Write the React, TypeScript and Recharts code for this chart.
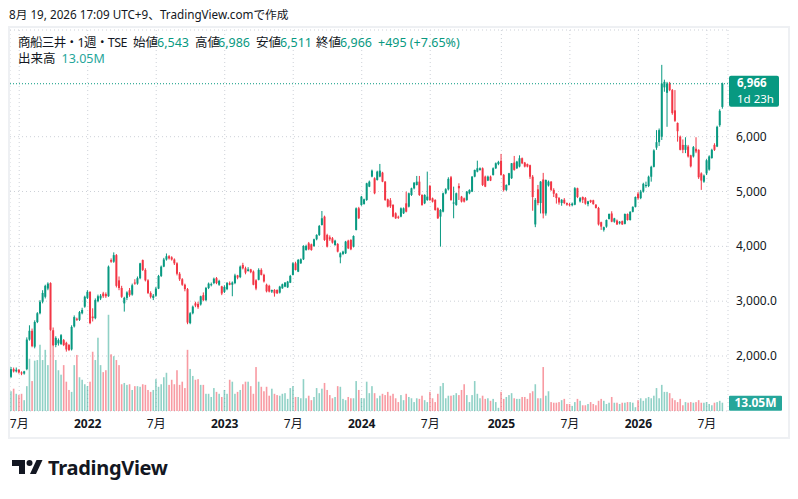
import React from 'react';
import { ComposedChart, Bar, XAxis, YAxis, CartesianGrid, ReferenceLine } from 'recharts';

// 商船三井 週足 (2021-06-14 週 〜 2026-08-17 週)
const START = Date.UTC(2021, 5, 14);
const WEEK = 7 * 24 * 3600 * 1000;

const opens = [
  1620, 1760, 1720, 1750, 1700, 1680, 1760, 2300, 2460, 2170,
  2620, 2780, 2990, 3080, 3230, 3330, 2470, 2200, 2230, 2220,
  2290, 2240, 2200, 2120, 2540, 2680, 2660, 2780, 2900, 3060,
  3170, 2720, 2690, 3000, 3050, 3140, 3130, 3090, 3750, 3720,
  3840, 3380, 3240, 2960, 3060, 3200, 3120, 3340, 3320, 3420,
  3750, 3570, 3380, 3150, 3060, 3100, 3230, 3460, 3630, 3760,
  3820, 3800, 3760, 3690, 3500, 3400, 3300, 3220, 2600, 2780,
  2960, 2950, 2940, 3110, 3020, 3240, 3300, 3330, 3420, 3300,
  3270, 3170, 3220, 3330, 3300, 3330, 3470, 3440, 3660, 3600,
  3550, 3580, 3540, 3380, 3390, 3570, 3480, 3300, 3280, 3175,
  3205, 3205, 3156, 3235, 3265, 3253, 3338, 3478, 3691, 3539,
  3691, 3764, 3934, 4055, 4037, 4007, 4129, 4208, 4390, 4542,
  4208, 4165, 4147, 4025, 4043, 3800, 3861, 3873, 4104, 4117,
  3995, 4299, 4694, 4755, 4773, 4846, 5089, 5272, 5241, 5211,
  5272, 5345, 5180, 4858, 4840, 4755, 4603, 4540, 4542, 4603,
  4785, 4724, 4937, 5059, 5120, 5180, 4937, 4785, 4846, 5101,
  4876, 4846, 4694, 4542, 4633, 4968, 5041, 5260, 4780, 4755,
  5101, 4907, 4876, 4846, 4968, 4998, 5272, 5363, 5393, 5424,
  5272, 5199, 5272, 5302, 5424, 5500, 5560, 5303, 5029, 5120,
  5242, 5528, 5424, 5455, 5607, 5528, 5500, 5480, 5270, 4400,
  5040, 4790, 5220, 4600, 5110, 5180, 5030, 4960, 4880, 4790,
  4850, 4790, 4770, 4750, 4760, 5060, 4820, 4900, 4880, 4770,
  4840, 4840, 4760, 4700, 4440, 4300, 4360, 4500, 4600, 4450,
  4470, 4420, 4460, 4410, 4590, 4480, 4630, 4720, 4960, 4880,
  5000, 5100, 5100, 5270, 5450, 5800, 5900, 6000, 6900, 6800,
  6970, 6850, 6480, 6250, 6000, 5850, 5760, 5820, 5660, 5640,
  5780, 5760, 5330, 5180, 5330, 5400, 5610, 5850, 5820, 6210,
  6543,
];

const highs = [
  1800, 1790, 1790, 1760, 1720, 1730, 2340, 2560, 2500, 2650,
  2800, 3020, 3200, 3300, 3344, 3344, 2520, 2360, 2320, 2400,
  2310, 2260, 2220, 2560, 2740, 2700, 2820, 2880, 3100, 3200,
  3180, 2870, 3050, 3120, 3130, 3170, 3160, 3650, 3780, 3890,
  3860, 3450, 3280, 3080, 3180, 3240, 3320, 3400, 3450, 3700,
  3760, 3600, 3400, 3180, 3130, 3260, 3480, 3650, 3790, 3870,
  3840, 3820, 3780, 3710, 3530, 3420, 3320, 3240, 2800, 2920,
  2990, 2990, 3100, 3160, 3260, 3340, 3340, 3430, 3440, 3390,
  3280, 3290, 3350, 3360, 3360, 3500, 3480, 3650, 3700, 3630,
  3620, 3590, 3560, 3400, 3600, 3600, 3500, 3320, 3300, 3210,
  3220, 3215, 3280, 3320, 3350, 3370, 3480, 3710, 3720, 3770,
  3780, 4020, 4030, 4080, 4050, 4140, 4220, 4390, 4645, 4560,
  4230, 4200, 4170, 4120, 4060, 3890, 3920, 4100, 4120, 4130,
  4200, 4710, 4720, 4920, 4870, 5160, 5200, 5400, 5260, 5380,
  5503, 5360, 5190, 4870, 4880, 4770, 4620, 4560, 4710, 4710,
  4998, 4980, 5070, 5170, 5284, 5284, 4950, 4950, 5363, 5120,
  4890, 4860, 4710, 4680, 4980, 5060, 5260, 5284, 5089, 4980,
  5150, 4920, 4890, 5010, 5040, 5280, 5400, 5563, 5440, 5440,
  5290, 5290, 5290, 5440, 5530, 5560, 5686, 5320, 5130, 5340,
  5520, 5649, 5560, 5660, 5620, 5540, 5510, 5490, 5300, 4880,
  5120, 5190, 5340, 5220, 5200, 5190, 5060, 4970, 4900, 4860,
  4880, 4800, 4790, 4800, 5080, 5070, 4900, 4910, 4900, 4830,
  4850, 4850, 4770, 4720, 4450, 4360, 4490, 4600, 4640, 4520,
  4490, 4460, 4470, 4600, 4600, 4640, 4730, 4910, 4990, 5030,
  5160, 5180, 5290, 5470, 5770, 6120, 6150, 7310, 7040, 7000,
  7000, 6870, 6850, 6260, 6020, 5950, 5990, 5850, 5670, 5830,
  5990, 5770, 5350, 5310, 5590, 5660, 5780, 5880, 6200, 6500,
  6986,
];

const lows = [
  1600, 1700, 1700, 1680, 1650, 1660, 1740, 2280, 2160, 2140,
  2600, 2760, 2960, 3050, 3200, 2460, 2180, 2160, 2190, 2200,
  2180, 2080, 2090, 2100, 2520, 2640, 2640, 2760, 2880, 3040,
  2580, 2630, 2670, 2980, 3020, 3060, 3060, 3080, 3700, 3700,
  3250, 3200, 3060, 2810, 3020, 3080, 3100, 3300, 3300, 3400,
  3550, 3360, 3130, 3050, 3020, 3080, 3220, 3440, 3620, 3740,
  3760, 3740, 3660, 3470, 3370, 3280, 3180, 2580, 2580, 2760,
  2890, 2860, 2920, 3000, 3000, 3220, 3270, 3310, 3310, 3280,
  3110, 3150, 3200, 3290, 3090, 3310, 3400, 3420, 3580, 3490,
  3540, 3510, 3290, 3200, 3380, 3470, 3340, 3160, 3160, 3150,
  3083, 3130, 3140, 3225, 3255, 3240, 3330, 3470, 3560, 3530,
  3680, 3750, 3920, 3930, 3920, 3990, 4110, 4190, 4380, 4100,
  3980, 4100, 4050, 4010, 3890, 3691, 3840, 3860, 3950, 3930,
  3980, 4290, 4500, 4740, 4760, 4830, 5080, 5260, 4950, 5200,
  5260, 5170, 4830, 4710, 4700, 4530, 4500, 4500, 4530, 4590,
  4620, 4710, 4920, 5040, 5110, 4920, 4740, 4770, 4830, 4830,
  4800, 4650, 4500, 3995, 4620, 4950, 5020, 4830, 4512, 4740,
  4846, 4800, 4800, 4830, 4950, 4990, 5260, 5350, 5380, 5100,
  5080, 5190, 5190, 5290, 5410, 5480, 5290, 5000, 5010, 5110,
  5230, 5380, 5410, 5440, 5500, 5440, 5440, 5230, 4650, 4350,
  4750, 4600, 4510, 4560, 5090, 5010, 4900, 4780, 4760, 4740,
  4770, 4740, 4730, 4730, 4750, 4880, 4800, 4790, 4760, 4730,
  4790, 4760, 4690, 4380, 4300, 4270, 4340, 4490, 4440, 4430,
  4390, 4400, 4390, 4400, 4470, 4470, 4620, 4710, 4850, 4860,
  4980, 5070, 5080, 5180, 5440, 5760, 5830, 5940, 6820, 6180,
  6830, 6400, 6270, 5910, 5750, 5700, 5700, 5620, 5440, 5620,
  5700, 5230, 5030, 5160, 5300, 5380, 5600, 5740, 5810, 6180,
  6511,
];

const closes = [
  1760, 1720, 1750, 1700, 1680, 1720, 2300, 2460, 2180, 2620,
  2780, 2990, 3150, 3280, 3320, 2480, 2200, 2330, 2290, 2380,
  2200, 2120, 2110, 2530, 2710, 2660, 2800, 2840, 3080, 3170,
  2600, 2690, 3020, 3090, 3100, 3090, 3090, 3630, 3720, 3840,
  3280, 3240, 3080, 3060, 3160, 3110, 3290, 3320, 3420, 3690,
  3570, 3380, 3150, 3080, 3100, 3230, 3460, 3630, 3760, 3820,
  3780, 3760, 3690, 3500, 3400, 3300, 3220, 2610, 2780, 2900,
  2920, 2890, 3090, 3020, 3240, 3320, 3310, 3410, 3330, 3370,
  3140, 3260, 3330, 3300, 3340, 3470, 3430, 3630, 3600, 3520,
  3580, 3530, 3300, 3230, 3570, 3480, 3360, 3180, 3175, 3205,
  3144, 3144, 3265, 3308, 3338, 3356, 3460, 3691, 3569, 3752,
  3764, 4007, 4007, 3946, 3934, 4129, 4208, 4372, 4512, 4117,
  3995, 4129, 4068, 4104, 3904, 3873, 3904, 4086, 3964, 3946,
  4189, 4694, 4512, 4907, 4858, 5150, 5180, 5381, 4968, 5363,
  5381, 5180, 4846, 4724, 4730, 4542, 4512, 4530, 4694, 4694,
  4633, 4968, 5059, 5162, 5180, 4937, 4755, 4937, 4907, 4846,
  4816, 4664, 4512, 4664, 4968, 5041, 5230, 4846, 4800, 4968,
  5059, 4816, 4816, 4998, 5029, 5272, 5393, 5424, 5424, 5120,
  5089, 5272, 5199, 5424, 5515, 5540, 5303, 5029, 5120, 5333,
  5515, 5394, 5546, 5607, 5515, 5455, 5455, 5270, 4900, 4846,
  4790, 5180, 4600, 5210, 5180, 5030, 4960, 4880, 4800, 4850,
  4790, 4760, 4750, 4780, 5060, 4900, 4880, 4850, 4780, 4820,
  4810, 4770, 4700, 4400, 4360, 4350, 4480, 4590, 4450, 4510,
  4400, 4450, 4400, 4590, 4480, 4630, 4720, 4900, 4880, 5000,
  5140, 5120, 5270, 5450, 5750, 5900, 6120, 6970, 7000, 6970,
  6850, 6430, 6290, 6100, 5760, 5760, 5850, 5640, 5460, 5810,
  5730, 5260, 5200, 5290, 5570, 5640, 5760, 5760, 6180, 6471,
  6966,
];

// 出来高 (百万株)
const volumes = [
  31, 35, 27, 25, 27, 17, 39, 82, 47, 79,
  80, 104, 80, 96, 72, 129, 111, 80, 64, 57,
  72, 46, 33, 30, 72, 88, 53, 49, 42, 39,
  46, 93, 80, 115, 72, 61, 64, 151, 89, 86,
  80, 72, 42, 44, 41, 42, 33, 39, 39, 38,
  42, 41, 33, 30, 33, 50, 38, 42, 53, 60,
  41, 49, 42, 64, 41, 46, 36, 96, 66, 55,
  49, 50, 41, 41, 27, 27, 22, 36, 30, 27,
  22, 33, 27, 49, 46, 27, 30, 33, 42, 46,
  46, 39, 27, 69, 46, 38, 31, 38, 24, 35,
  27, 25, 24, 27, 28, 19, 36, 39, 22, 22,
  20, 50, 20, 24, 17, 22, 36, 28, 35, 44,
  33, 25, 20, 22, 39, 38, 19, 17, 22, 20,
  20, 47, 33, 20, 20, 46, 28, 39, 28, 20,
  24, 27, 25, 30, 24, 27, 20, 14, 25, 17,
  27, 22, 20, 14, 20, 19, 24, 17, 14, 30,
  20, 14, 27, 39, 44, 20, 24, 24, 25, 28,
  25, 33, 42, 25, 14, 25, 47, 27, 20, 24,
  19, 20, 16, 19, 14, 5, 30, 19, 22, 25,
  28, 20, 19, 19, 22, 22, 19, 28, 31, 42,
  20, 20, 69, 24, 31, 14, 13, 13, 14, 17,
  19, 11, 11, 8, 14, 19, 16, 9, 9, 11,
  14, 11, 9, 16, 19, 16, 11, 13, 22, 13,
  13, 11, 13, 13, 14, 14, 13, 6, 17, 20,
  16, 20, 22, 20, 24, 36, 20, 41, 30, 30,
  28, 20, 17, 14, 19, 9, 14, 13, 14, 13,
  14, 17, 13, 13, 14, 11, 9, 13, 14, 16,
  13.05,
];

const priceTicks = [2000, 3000, 4000, 5000, 6000];
const priceTickLabels = ['2,000.0', '3,000.0', '4,000', '5,000', '6,000'];
const julyLabel = '7月';
const countdown = '1d 23h';

const UP = '#089981';
const DOWN = '#f23645';
const UP_VOL = 'rgba(8,153,129,0.45)';
const DOWN_VOL = 'rgba(242,54,69,0.5)';
const VOL_TAG = '#26a69a';
const TEXT = '#131722';
const FONT = "'Noto Sans', 'Noto Sans CJK JP', sans-serif";

const rows = closes.map((c, i) => {
  const t = new Date(START + i * WEEK);
  return {
    d: t.toISOString().slice(0, 10),
    m: t.getUTCMonth(),
    yr: t.getUTCFullYear(),
    o: opens[i],
    h: highs[i],
    l: lows[i],
    c,
    v: volumes[i],
  };
});

// 1月・7月の最初の週に目盛り
const xTicks = rows
  .filter((r, i) => i > 0 && r.m !== rows[i - 1].m && (r.m === 0 || r.m === 6))
  .map((r) => r.d);

const last = rows[rows.length - 1];
const prev = rows[rows.length - 2];
const change = last.c - prev.c;
const changePct = (change / prev.c) * 100;
const fmt = (n: number) => n.toLocaleString('en-US');
const sign = change >= 0 ? '+' : '';

function Candle(props: any) {
  const { x, y, width, height, payload } = props;
  if (!payload) return null;
  const { o, h, l, c } = payload;
  const color = c >= o ? UP : DOWN;
  const top = Math.min(y, y + height);
  const span = Math.abs(height);
  const k = h === l ? 0 : span / (h - l);
  const yOf = (v: number) => top + (h - v) * k;
  const cx = x + width / 2;
  const bodyTop = yOf(Math.max(o, c));
  const bodyH = Math.max(1, Math.abs(yOf(o) - yOf(c)));
  return (
    <g>
      <line x1={cx} x2={cx} y1={top} y2={top + span} stroke={color} strokeWidth={1} />
      <rect x={cx - 1} y={bodyTop} width={2} height={bodyH} fill={color} />
    </g>
  );
}

function VolBar(props: any) {
  const { x, y, width, height, payload } = props;
  if (!payload) return null;
  const cx = x + width / 2;
  return (
    <rect
      x={cx - 0.8}
      y={Math.min(y, y + height)}
      width={1.6}
      height={Math.abs(height)}
      fill={payload.c >= payload.o ? UP_VOL : DOWN_VOL}
    />
  );
}

function XTick(props: any) {
  const { x, y, payload } = props;
  const r = rows.find((row) => row.d === payload.value);
  if (!r) return null;
  const isYear = r.m === 0;
  return (
    <text
      x={x}
      y={y}
      dy={9}
      textAnchor="middle"
      fontSize={12}
      fontWeight={isYear ? 700 : 400}
      fill={TEXT}
      fontFamily={FONT}
    >
      {isYear ? String(r.yr) : julyLabel}
    </text>
  );
}

function PriceTick(props: any) {
  const { x, y, payload } = props;
  const idx = priceTicks.indexOf(payload.value);
  return (
    <text x={x} y={y} dy={4} textAnchor="start" fontSize={12} fill={TEXT} fontFamily={FONT}>
      {idx >= 0 ? priceTickLabels[idx] : ''}
    </text>
  );
}

function PriceTag(props: any) {
  const vb = props.viewBox;
  if (!vb) return null;
  const left = vb.x + vb.width + 1;
  return (
    <g fontFamily={FONT}>
      <rect x={left} y={vb.y - 8} width={50} height={31} rx={2} fill={UP} />
      <text x={left + 8} y={vb.y + 3} fontSize={11.5} fontWeight={700} fill="#fff">
        {fmt(last.c)}
      </text>
      <text x={left + 8} y={vb.y + 19} fontSize={11.5} fill="#fff">
        {countdown}
      </text>
    </g>
  );
}

function VolTag(props: any) {
  const vb = props.viewBox;
  if (!vb) return null;
  const left = vb.x + vb.width + 1;
  return (
    <g fontFamily={FONT}>
      <rect x={left} y={vb.y - 7} width={53} height={15} rx={1} fill={VOL_TAG} />
      <text x={left + 26.5} y={vb.y + 4.5} textAnchor="middle" fontSize={12} fontWeight={700} fill="#fff">
        {last.v.toFixed(2)}M
      </text>
    </g>
  );
}

// 凡例: [テキスト, 左端x, 色, 字間]
const legendItems: [string, number, string, number][] = [
  ['商船三井・1週・TSE', 18, TEXT, -0.6],
  ['始値', 133, TEXT, 0],
  [fmt(last.o), 157, UP, 0],
  ['高値', 195, TEXT, 0],
  [fmt(last.h), 218, UP, 0],
  ['安値', 256, TEXT, 0],
  [fmt(last.l), 280, UP, 0],
  ['終値', 316, TEXT, 0],
  [fmt(last.c), 340, UP, 0],
  [`${sign}${fmt(change)} (${sign}${changePct.toFixed(2)}%)`, 378, UP, 0],
];

export default function App() {
  return (
    <div
      style={{
        position: 'absolute',
        left: 0,
        top: 0,
        width: 798,
        height: 499,
        background: '#fff',
        fontFamily: FONT,
        color: TEXT,
        overflow: 'hidden',
      }}
    >
      <div style={{ position: 'absolute', left: 9, top: 5, fontSize: 11.7, lineHeight: '18px', whiteSpace: 'nowrap' }}>
        8月 19, 2026 17:09 UTC+9、TradingView.comで作成
      </div>

      <div
        style={{
          position: 'absolute',
          left: 8,
          top: 26,
          width: 782,
          height: 413,
          boxSizing: 'border-box',
          border: '2px solid #eef0f3',
        }}
      />

      <div style={{ position: 'absolute', left: 10, top: 28 }}>
        <ComposedChart
          width={780}
          height={410}
          data={rows}
          margin={{ top: 2, right: 0, bottom: 0, left: 0 }}
          barGap={-2}
        >
          <CartesianGrid yAxisId="price" stroke="#cdd1d8" strokeDasharray="1 3" />
          <XAxis
            dataKey="d"
            ticks={xTicks}
            interval={0}
            tickLine={false}
            axisLine={false}
            height={27}
            padding={{ left: 0, right: 4 }}
            tick={<XTick />}
          />
          <YAxis
            yAxisId="price"
            orientation="right"
            type="number"
            domain={[997, 7946]}
            allowDataOverflow
            ticks={priceTicks}
            width={62}
            axisLine={false}
            tickLine={false}
            tickSize={0}
            tickMargin={8}
            tick={<PriceTick />}
          />
          <YAxis yAxisId="vol" hide type="number" domain={[0, 598]} allowDataOverflow />
          <Bar
            yAxisId="vol"
            dataKey="v"
            barSize={2}
            shape={<VolBar />}
            isAnimationActive={false}
          />
          <Bar
            yAxisId="price"
            dataKey={(r: any) => [r.l, r.h]}
            barSize={2}
            shape={<Candle />}
            isAnimationActive={false}
          />
          <ReferenceLine
            yAxisId="price"
            y={last.c}
            stroke={UP}
            strokeDasharray="1 2"
            label={<PriceTag />}
          />
          <ReferenceLine yAxisId="vol" y={last.v} stroke="none" label={<VolTag />} />
        </ComposedChart>
      </div>

      {legendItems.map(([t, x, col, ls]) => (
        <div
          key={t + x}
          style={{
            position: 'absolute',
            left: x,
            top: 35,
            fontSize: 12.5,
            lineHeight: '16px',
            whiteSpace: 'nowrap',
            color: col,
            letterSpacing: ls,
          }}
        >
          {t}
        </div>
      ))}
      <div style={{ position: 'absolute', left: 18, top: 51, fontSize: 12.5, lineHeight: '16px', whiteSpace: 'nowrap' }}>
        <span style={{ color: TEXT, marginRight: 6 }}>出来高</span>
        <span style={{ color: VOL_TAG }}>{last.v.toFixed(2)}M</span>
      </div>

      <svg style={{ position: 'absolute', left: 0, top: 450 }} width={200} height={40}>
        <path d="M12 10 H25 V24 H19 V16 H12 Z" fill={TEXT} />
        <circle cx={29.5} cy={13} r={3} fill={TEXT} />
        <path d="M30 24 L36.5 10 H42.5 L36 24 Z" fill={TEXT} />
        <text x={48} y={25} fontSize={20} fontWeight={700} fill={TEXT} fontFamily={FONT} letterSpacing={-0.3}>
          TradingView
        </text>
      </svg>
    </div>
  );
}
